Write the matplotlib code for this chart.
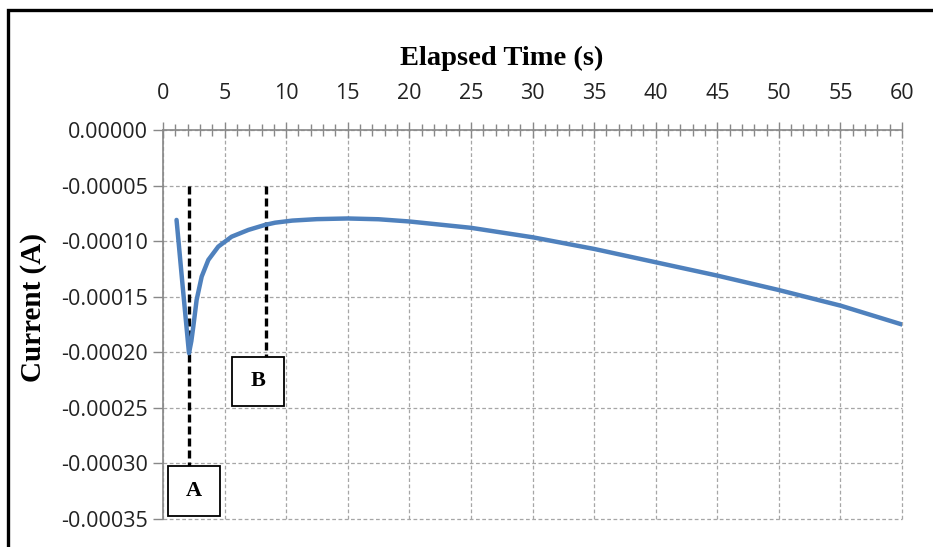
import matplotlib
matplotlib.use("Agg")
import matplotlib.pyplot as plt
import numpy as np
from matplotlib.patches import Rectangle
from matplotlib.ticker import MultipleLocator, FormatStrFormatter

plt.rcParams['axes.unicode_minus'] = False

# current vs elapsed time
time_s = [1.1, 1.6, 2.11, 2.3, 2.46, 2.73, 3.14, 3.68, 4.49, 5.57, 6.93, 8.28,
          9.1, 10.5, 12.5, 15, 17.5, 20, 25, 30, 35, 40, 45, 50, 55, 60]
current_a = [-0.0000809, -0.000141, -0.0002008, -0.000190, -0.0001769,
             -0.0001529, -0.0001319, -0.0001169, -0.0001049, -0.0000960,
             -0.0000899, -0.0000854, -0.0000834, -0.0000815, -0.0000802,
             -0.0000796, -0.0000803, -0.0000823, -0.0000880, -0.0000965,
             -0.000107, -0.000119, -0.000131, -0.000144, -0.000158, -0.000175]

# marker lines A and B: (label, time, top of line, bottom of line)
markers = [("A", 2.1, -0.00005, -0.000302),
           ("B", 8.35, -0.00005, -0.000204)]
# label boxes: (label, left, right, top, bottom)
boxes = [("A", 0.4, 4.6, -0.000302, -0.000347),
         ("B", 5.6, 9.8, -0.000204, -0.000248)]

W, H = 933, 547
fig = plt.figure(figsize=(W / 100, H / 100), dpi=100)
ax = fig.add_axes([163 / W, 1 - 519 / H, (902 - 163) / W, (519 - 130) / H])

ax.plot(time_s, current_a, color='#4F81BD', lw=3.2, solid_capstyle='round',
        solid_joinstyle='round', zorder=4)

for name, t, y0, y1 in markers:
    ax.plot([t, t], [y0, y1], color='black', lw=2.4, ls=(0, (2.4, 1.2)), zorder=3)

for name, x0, x1, y0, y1 in boxes:
    ax.add_patch(Rectangle((x0, y1), x1 - x0, y0 - y1, facecolor='white',
                           edgecolor='black', lw=1.3, zorder=5, clip_on=False))
    ax.text((x0 + x1) / 2, (y0 + y1) / 2, name, ha='center', va='center',
            fontsize=16, fontweight='bold', family='Liberation Serif', zorder=6)

ax.set_xlim(0, 60)
ax.set_ylim(-0.00035, 0)
ax.xaxis.tick_top()
ax.xaxis.set_major_locator(MultipleLocator(5))
ax.xaxis.set_minor_locator(MultipleLocator(1))
ax.yaxis.set_major_locator(MultipleLocator(0.00005))
ax.yaxis.set_major_formatter(FormatStrFormatter('%.5f'))

ax.tick_params(axis='x', which='major', direction='inout', length=11, width=1,
               color='#888888', labelsize=15.5, labelcolor='#222222', pad=13)
ax.tick_params(axis='x', which='minor', direction='inout', length=9, width=1,
               color='#888888')
ax.tick_params(axis='y', direction='out', length=7, width=1, color='#888888',
               labelsize=15.5, labelcolor='#222222', pad=4)
for lab in ax.get_xticklabels() + ax.get_yticklabels():
    lab.set_family('Open Sans')

ax.grid(True, which='major', color='#a6a6a6', ls=(0, (3, 2)), lw=0.9)
for s in ['right', 'bottom']:
    ax.spines[s].set_visible(False)
for s in ['left', 'top']:
    ax.spines[s].set_color('#888888')
    ax.spines[s].set_linewidth(1.2)
for line in ax.get_xgridlines() + ax.get_ygridlines():
    line.set_clip_on(False)

# axis titles placed like the original
fig.text(502 / W, 1 - 58 / H, 'Elapsed Time (s)', ha='center', va='center',
         fontsize=20.5, fontweight='bold', family='Liberation Serif')
fig.text(34 / W, 1 - 308 / H, 'Current (A)', ha='center', va='center',
         rotation=90, fontsize=21, fontweight='bold', family='Liberation Serif')

# outer frame, cropped at right and bottom
fig.add_artist(Rectangle((8 / W, -0.1), 1.2, 1 - 10 / H + 0.1,
                         transform=fig.transFigure, fill=False,
                         edgecolor='black', lw=2.4))

fig.savefig('out.png', dpi=100)
